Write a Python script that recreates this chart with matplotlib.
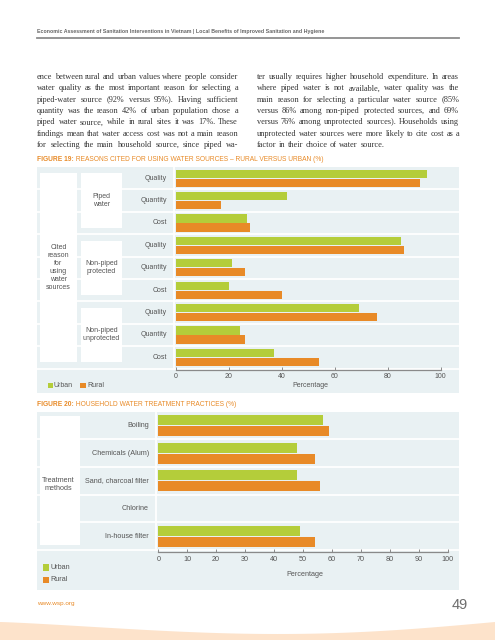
import matplotlib
matplotlib.use('Agg')
import matplotlib.pyplot as plt
from matplotlib.patches import Rectangle
import numpy as np

plt.rcParams['font.family'] = ['Liberation Sans', 'DejaVu Sans']

# Figure 19 - reasons cited for using water sources (%)
reasons = ['Quality', 'Quantity', 'Cost'] * 3
sources = ['Piped\nwater', 'Non-piped\nprotected', 'Non-piped\nunprotected']
urban_19 = [95, 42, 27, 85, 21, 20, 69, 24, 37]
rural_19 = [92, 17, 28, 86, 26, 40, 76, 26, 54]
ticks_19 = [0, 20, 40, 60, 80, 100]

# Figure 20 - household water treatment practices (%)
methods = ['Boiling', 'Chemicals (Alum)', 'Sand, charcoal filter', 'Chlorine', 'In-house filter']
urban_20 = [57, 48, 48, 0, 49]
rural_20 = [59, 54, 56, 0, 54]
ticks_20 = list(range(0, 101, 10))

header = ('Economic Assessment of Sanitation Interventions in Vietnam | '
          'Local Benefits of Improved Sanitation and Hygiene')
left_col = [
    'ence between rural and urban values where people consider',
    'water quality as the most important reason for selecting a',
    'piped-water source (92% versus 95%). Having sufficient',
    'quantity was the reason 42% of urban population chose a',
    'piped water source, while in rural sites it was 17%. These',
    'findings mean that water access cost was not a main reason',
    'for selecting the main household source, since piped wa-',
]
right_col = [
    'ter usually requires higher household expenditure. In areas',
    'where piped water is not available, water quality was the',
    'main reason for selecting a particular water source (85%',
    'versus 86% among non-piped protected sources, and 69%',
    'versus 76% among unprotected sources). Households using',
    'unprotected water sources were more likely to cite cost as a',
    'factor in their choice of water source.',
]

GREEN = '#b4cd3a'
ORANGE = '#e88a27'
PANEL = '#e9f1f3'
GREY = '#555555'
TEXT = '#333333'
PEACH = '#fde3cb'

W, H = 495, 640
fig = plt.figure(figsize=(W / 100, H / 100), dpi=100)
page = fig.add_axes([0, 0, 1, 1])
page.set_xlim(0, W)
page.set_ylim(H, 0)
page.axis('off')
renderer = fig.canvas.get_renderer()


def width_of(t):
    return t.get_window_extent(renderer).width


def body_size(columns, width, base=6.8, min_gap=2.2):
    # largest size at which every line still fits with a normal word gap
    scale = 1.0
    for lines in columns:
        for line in lines:
            words = line.split()
            ts = [page.text(0, 0, w, fontsize=base, family='Liberation Serif') for w in words]
            total = sum(width_of(t) for t in ts)
            for t in ts:
                t.remove()
            scale = min(scale, (width - min_gap * (len(words) - 1)) / total)
    return base * scale


def justified(lines, x0, x1, y0, step, size, ragged_last=False):
    for i, line in enumerate(lines):
        y = y0 + i * step
        words = line.split()
        ts = [page.text(0, y, w, fontsize=size, family='Liberation Serif',
                        color=TEXT, va='baseline') for w in words]
        ws = [width_of(t) for t in ts]
        if ragged_last and i == len(lines) - 1:
            gap = 2.4
        else:
            gap = (x1 - x0 - sum(ws)) / (len(words) - 1)
        x = x0
        for t, w in zip(ts, ws):
            t.set_x(x)
            x += w + gap


def fig_title(y, num, rest, x1):
    a = page.text(37, y, num, fontsize=5, weight='bold', color=ORANGE, va='center')
    b = page.text(37, y, rest, fontsize=5, color=ORANGE, va='center')
    s = 5 * (x1 - 37) / (width_of(a) + width_of(b))
    a.set_fontsize(s)
    b.set_fontsize(s)
    b.set_x(37 + width_of(a))


def chart(top, bottom, row_h, n, axis_y, bx0, bx100, sep_x, labels, label_x,
          urban, rural, ticks, fsize):
    page.add_patch(Rectangle((37, top), 422, bottom - top, color=PANEL, lw=0))
    for i in range(1, n + 1):
        page.plot([37, 459], [top + i * row_h] * 2, color='white', lw=1.3)
    page.plot([sep_x] * 2, [top, top + n * row_h], color='white', lw=1.3)
    for i, lab in enumerate(labels):
        page.text(label_x, top + (i + 0.5) * row_h, lab, ha='right', va='center',
                  fontsize=fsize, color=GREY)

    ax = fig.add_axes([bx0 / W, 1 - axis_y / H, (bx100 - bx0) / W, (axis_y - top) / H])
    ax.patch.set_visible(False)
    ax.set_xlim(0, 100)
    ax.set_ylim((axis_y - top) / row_h, 0)
    y = np.arange(n) + 0.5
    ax.barh(y - 0.2, urban, height=0.36, color=GREEN, lw=0)
    ax.barh(y + 0.2, rural, height=0.36, color=ORANGE, lw=0)
    for s in ['top', 'right', 'left']:
        ax.spines[s].set_visible(False)
    ax.spines['bottom'].set_color('#8a8a8a')
    ax.spines['bottom'].set_linewidth(0.9)
    ax.set_yticks([])
    ax.set_xticks(ticks)
    ax.tick_params(axis='x', direction='in', length=2.5, width=0.7, colors='#8a8a8a',
                   labelcolor=GREY, labelsize=fsize, pad=2.5)
    return ax


# header
h = page.text(37, 31, header, fontsize=4, weight='bold', color='#666666', va='center')
h.set_fontsize(4 * (320 - 37) / width_of(h))
page.plot([37, 459], [37.5, 37.5], color='#8c8c8c', lw=1.3)

# body text
size = body_size([left_col, right_col], 201)
justified(left_col, 37, 238, 79, 11.33, size)
justified(right_col, 257, 459, 79, 11.33, size, ragged_last=True)

# Figure 19
fig_title(159.5, 'FIGURE 19:', ' REASONS CITED FOR USING WATER SOURCES \u2013 RURAL VERSUS URBAN (%)', 327)
top19, row19 = 167, 22.4
chart(top19, 393.3, row19, 9, 370, 176, 440.7, 173.5, reasons, 167,
      urban_19, rural_19, ticks_19, 5)
page.add_patch(Rectangle((40, 173), 37, 189, color='white', lw=0))
page.text(58.5, 267.5, 'Cited\nreason\nfor\nusing\nwater\nsources', ha='center', va='center',
          fontsize=5, color=GREY, linespacing=1.2)
for k, src in enumerate(sources):
    y0 = top19 + k * 3 * row19
    page.add_patch(Rectangle((81, y0 + 6.3), 41, 3 * row19 - 12.6, color='white', lw=0))
    page.text(101.5, y0 + 1.5 * row19, src, ha='center', va='center', fontsize=5,
              color=GREY, linespacing=1.2)
page.text(310, 385.7, 'Percentage', ha='center', va='center', fontsize=5, color=GREY)
page.add_patch(Rectangle((47.7, 382.7), 5.3, 5.6, color=GREEN, lw=0))
page.text(53.5, 385.5, 'Urban', va='center', fontsize=5, color=GREY)
page.add_patch(Rectangle((80, 382.7), 5.6, 5.6, color=ORANGE, lw=0))
page.text(87, 385.5, 'Rural', va='center', fontsize=5, color=GREY)

# Figure 20
fig_title(404.7, 'FIGURE 20:', ' HOUSEHOLD WATER TREATMENT PRACTICES (%)', 239)
chart(411.7, 590, 27.66, 5, 552.3, 158.3, 447.7, 155.5, methods, 149,
      urban_20, rural_20, ticks_20, 5.2)
page.add_patch(Rectangle((40, 416), 40, 129, color='white', lw=0))
page.text(58.5, 485, 'Treatment\nmethods', ha='center', va='center', fontsize=5.2,
          color=GREY, linespacing=1.2)
page.text(305, 574, 'Percentage', ha='center', va='center', fontsize=5.2, color=GREY)
page.add_patch(Rectangle((42.7, 564.3), 6.6, 6.2, color=GREEN, lw=0))
page.text(50.5, 567.4, 'Urban', va='center', fontsize=5.2, color=GREY)
page.add_patch(Rectangle((42.7, 576.7), 6.6, 6.2, color=ORANGE, lw=0))
page.text(50.5, 579.8, 'Rural', va='center', fontsize=5.2, color=GREY)

# footer
page.text(37, 604, 'www.wsp.org', va='center', fontsize=4.6, color=ORANGE)
page.text(468, 605, '49', ha='right', va='center', fontsize=10.5, color='#6d6d6d')
xs = np.linspace(0, W, 200)
edge = 622 + 12 * np.sin(np.pi * (xs / W) ** 1.2)
page.fill_between(xs, edge, H, color=PEACH, lw=0)

fig.savefig('out.png', dpi=100)
